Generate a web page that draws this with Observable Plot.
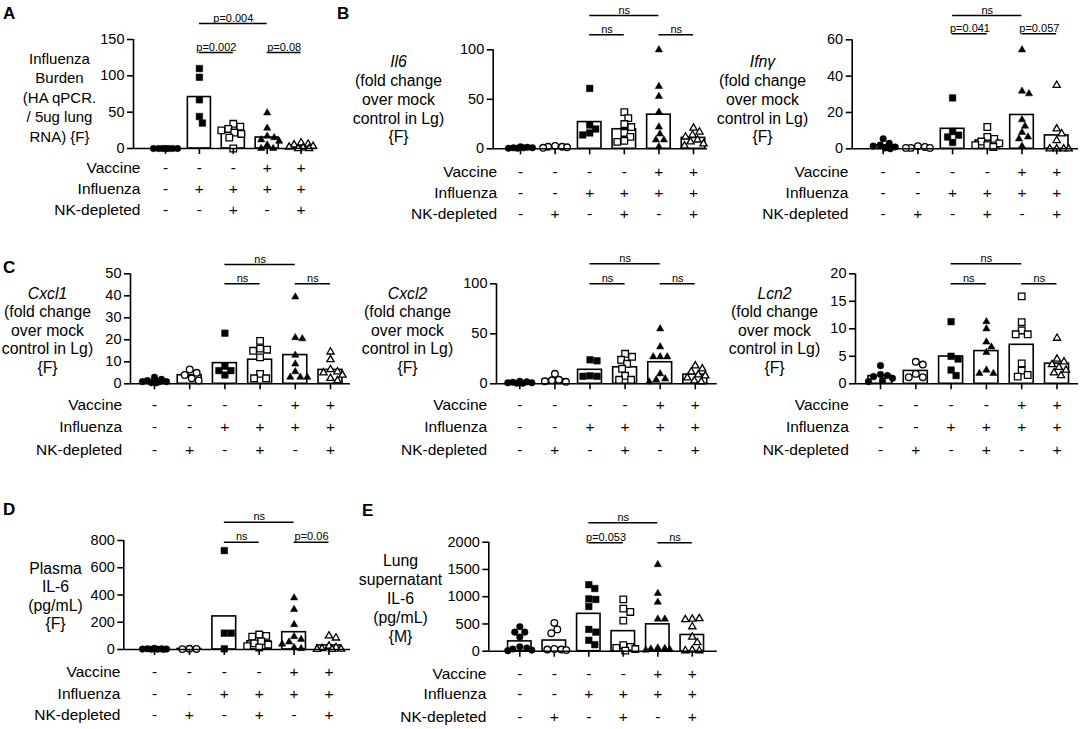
<!DOCTYPE html>
<html><head><meta charset="utf-8">
<script src="https://cdn.jsdelivr.net/npm/d3@7"></script>
<script src="https://cdn.jsdelivr.net/npm/@observablehq/plot@0.6"></script>
<style>
body{margin:0;background:#fff;}
#page{position:relative;width:1081px;height:729px;overflow:hidden;background:#fff;font-family:"Liberation Sans",Arial,Helvetica,sans-serif;}
.panel{position:absolute;}
.letter{position:absolute;font-weight:bold;font-size:17px;line-height:17px;color:#000;}
</style></head><body><div id="page"></div>
<script>
// ---------- data ----------
const rowLabels = ["Vaccine", "Influenza", "NK-depleted"];
const vaccine6 = ["-", "-", "-", "-", "+", "+"];
const influenza6 = ["-", "-", "+", "+", "+", "+"];
const nk6 = ["-", "+", "-", "+", "-", "+"];
const vaccine5 = ["-", "-", "-", "+", "+"];
const influenza5 = ["-", "+", "+", "+", "+"];
const nk5 = ["-", "-", "+", "-", "+"];

const ticksA = [0, 50, 100, 150];
const ticksIl6 = [0, 50, 100];
const ticksIfng = [0, 20, 40, 60];
const ticksCxcl1 = [0, 10, 20, 30, 40, 50];
const ticksCxcl2 = [0, 50, 100];
const ticksLcn2 = [0, 5, 10, 15, 20];
const ticksPlasma = [0, 200, 400, 600, 800];
const ticksLung = [0, 500, 1000, 1500, 2000];

const influenzaBurden = [
  [0, 0, 0, 0, 0, 0, 0],
  [110, 98, 67, 44, 35],
  [34, 30, 27, 25, 22, 20, 15, 0],
  [49, 28, 17, 15, 12, 10, 5, 0, 0],
  [8, 6, 5, 3, 2, 1, 0, 0]
];
const il6 = [
  [2, 1.5, 1, 1, 0.5, 1, 0.5],
  [3, 2, 2, 1.5, 1],
  [61, 24, 20, 16, 14],
  [37, 31, 25, 22, 16, 12, 8, 7],
  [100, 63, 53, 37, 22, 15, 9, 9, 2],
  [21, 17, 14, 12, 9, 7, 5, 3]
];
const ifng = [
  [5.5, 3, 2, 1.5, 1, 0.5, 0],
  [1.5, 1, 0.5, 0.5, 0.5],
  [28, 9.5, 7.5, 6.5, 3.5],
  [12, 6.5, 5.5, 4, 3, 2, 2, 1],
  [54.5, 31.7, 30.3, 16, 12.5, 9, 6.5, 5.5, 1.5],
  [35, 11, 8.3, 4.6, 0, 0, 0, 0]
];
const cxcl1 = [
  [3, 2, 1.5, 1, 1, 0.5, 0.5, 1],
  [6.5, 5, 4, 2.5, 1.5],
  [23, 8, 6, 6, 4],
  [19.5, 16, 15.5, 15, 12, 4.5, 2.5, 2.5],
  [39.5, 21, 20.5, 13, 9, 5.5, 3, 3, 3],
  [14.5, 11, 6.5, 5.5, 5, 4, 2.5, 1.5]
];
const cxcl2 = [
  [2.5, 2, 1.5, 1, 1, 0.5, 0.5],
  [10, 4, 3.5, 2.5, 2],
  [24, 23, 8, 7.5, 7.5],
  [30, 27, 24, 20, 15, 8, 4, 4],
  [55, 37, 27, 27, 27, 10, 5, 4, 2],
  [18, 15, 12, 9, 8, 6, 3, 2]
];
const lcn2 = [
  [3.3, 1.7, 1.5, 1.3, 1, 0.6, 0.4],
  [4, 3.5, 1.8, 1.2, 1.2],
  [11.3, 5, 4.5, 2.5, 1.5],
  [11.3, 10, 7.6, 6.7, 5.7, 2.5, 1.9, 1.9],
  [15.9, 11.2, 9.7, 9, 9, 3.7, 2.4, 1.6, 1.3],
  [8.3, 4.5, 4, 3.5, 3, 2.5, 2, 1.5]
];
const plasmaIL6 = [
  [8, 5, 5, 3, 3, 2, 2, 1],
  [5, 4, 3],
  [726, 120, 120, 5],
  [110, 100, 95, 60, 45, 35, 25, 15],
  [379, 294, 183, 95, 75, 55, 40, 15, 7],
  [100, 85, 25, 15, 7, 3, 1, 1]
];
const lungIL6 = [
  [450, 350, 350, 260, 80, 60, 40, 20, 10],
  [520, 400, 330, 40, 30, 30, 20],
  [1220, 1150, 960, 950, 820, 400, 350, 200, 120],
  [950, 780, 720, 560, 110, 80, 60, 40, 10],
  [1590, 1060, 900, 590, 590, 60, 50, 40, 30, 20],
  [590, 600, 580, 450, 260, 160, 20, 10, 10]
];

const shapes6 = [["circle", true], ["circle", false], ["square", true], ["square", false], ["triangle", true], ["triangle", false]];
const shapesA = [["circle", true], ["square", true], ["square", false], ["triangle", true], ["triangle", false]];
const shapesLcn2 = [["circle", true], ["circle", false], ["square", true], ["triangle", true], ["square", false], ["triangle", false]];

const bracketsA = [{from: 1, to: 3, label: "p=0.004", level: "upper"}, {from: 1, to: 2, label: "p=0.002", level: "lower"}, {from: 3, to: 4, label: "p=0.08", level: "lower"}];
const bracketsIl6 = [{from: 2, to: 4, label: "ns", level: "upper"}, {from: 2, to: 3, label: "ns", level: "lower"}, {from: 4, to: 5, label: "ns", level: "lower"}];
const bracketsIfng = [{from: 2, to: 4, label: "ns", level: "upper"}, {from: 2, to: 3, label: "p=0.041", level: "lower"}, {from: 4, to: 5, label: "p=0.057", level: "lower"}];
const bracketsNs = [{from: 2, to: 4, label: "ns", level: "upper"}, {from: 2, to: 3, label: "ns", level: "lower"}, {from: 4, to: 5, label: "ns", level: "lower"}];
const bracketsPlasma = [{from: 2, to: 4, label: "ns", level: "upper"}, {from: 2, to: 3, label: "ns", level: "lower"}, {from: 4, to: 5, label: "p=0.06", level: "lower"}];
const bracketsLung = [{from: 2, to: 4, label: "ns", level: "upper"}, {from: 2, to: 3, label: "p=0.053", level: "lower"}, {from: 4, to: 5, label: "ns", level: "lower"}];

const titleA = ["Influenza", "Burden", "(HA qPCR.", "/ 5ug lung", "RNA) {F}"];
const titleIl6 = ["Il6", "(fold change", "over mock", "control in Lg)", "{F}"];
const titleIfng = ["Ifnγ", "(fold change", "over mock", "control in Lg)", "{F}"];
const titleCxcl1 = ["Cxcl1", "(fold change", "over mock", "control in Lg)", "{F}"];
const titleCxcl2 = ["Cxcl2", "(fold change", "over mock", "control in Lg)", "{F}"];
const titleLcn2 = ["Lcn2", "(fold change", "over mock", "control in Lg)", "{F}"];
const titlePlasma = ["Plasma", "IL-6", "(pg/mL)", "{F}"];
const titleLung = ["Lung", "supernatant", "IL-6", "(pg/mL)", "{M}"];

// ---------- layout ----------
const FONT = '"Liberation Sans", Arial, Helvetica, sans-serif';
const tY1 = [61, 80.5, 99.5, 118, 136.5];
const tY2 = [293, 311.5, 330, 348.5, 367];
const panels = [
  {letter: "A", lx: 3, lb: 19.5, title: titleA, italic: false, values: influenzaBurden, ticks: ticksA, signs: [vaccine5, influenza5, nk5], shapes: shapesA, brackets: bracketsA,
   L: {left: 0, top: 0, width: 330, height: 225, axisX: 133, y0: 148, yTop: 39, g0: 165, step: 33.9, xEnd: 316, titleX: 59, titleY: [58.3, 77.9, 97.5, 117.1, 136.7], titleSize: 15, labelRight: 140, rowY: [168, 189, 210], upper: 23, lower: 52}},
  {letter: "B", lx: 337, lb: 19.5, title: titleIl6, italic: true, values: il6, ticks: ticksIl6, signs: [vaccine6, influenza6, nk6], shapes: shapes6, brackets: bracketsIl6,
   L: {left: 335, top: 0, width: 380, height: 225, axisX: 492.7, y0: 148.3, yTop: 49.3, g0: 520, step: 34.6, xEnd: 707, titleX: 398, titleY: tY1, titleSize: 15.8, labelRight: 496.7, rowY: [171.7, 192.7, 213.3], upper: 15, lower: 34.3}},
  {letter: "", title: titleIfng, italic: true, values: ifng, ticks: ticksIfng, signs: [vaccine6, influenza6, nk6], shapes: shapes6, brackets: bracketsIfng,
   L: {left: 715, top: 0, width: 366, height: 225, axisX: 851.7, y0: 148.3, yTop: 39.3, g0: 882.7, step: 34.7, xEnd: 1078, titleX: 762, titleY: tY1, titleSize: 15.8, labelRight: 848, rowY: [171.7, 192.7, 213.3], upper: 15, lower: 33.3}},
  {letter: "C", lx: 3, lb: 273, title: titleCxcl1, italic: true, values: cxcl1, ticks: ticksCxcl1, signs: [vaccine6, influenza6, nk6], shapes: shapes6, brackets: bracketsNs,
   L: {left: 0, top: 240, width: 355, height: 225, axisX: 130, y0: 383.3, yTop: 273.3, g0: 154, step: 35.2, xEnd: 350, titleX: 47, titleY: tY2, titleSize: 15.8, labelRight: 121.7, rowY: [405, 426.7, 449.3], upper: 264, lower: 283.3}},
  {letter: "", title: titleCxcl2, italic: true, values: cxcl2, ticks: ticksCxcl2, signs: [vaccine6, influenza6, nk6], shapes: shapes6, brackets: bracketsNs,
   L: {left: 355, top: 240, width: 365, height: 225, axisX: 496, y0: 383.3, yTop: 283.3, g0: 519.3, step: 35.1, xEnd: 716.7, titleX: 407, titleY: tY2, titleSize: 15.8, labelRight: 486.7, rowY: [405, 426.7, 449.3], upper: 263.3, lower: 283.3}},
  {letter: "", title: titleLcn2, italic: true, values: lcn2, ticks: ticksLcn2, signs: [vaccine6, influenza6, nk6], shapes: shapesLcn2, brackets: bracketsNs,
   L: {left: 720, top: 240, width: 361, height: 225, axisX: 855, y0: 383.3, yTop: 273.3, g0: 880, step: 35.3, xEnd: 1078, titleX: 774, titleY: tY2, titleSize: 15.8, labelRight: 848.3, rowY: [405, 426.7, 449.3], upper: 263.3, lower: 283.3}},
  {letter: "D", lx: 3, lb: 515, title: titlePlasma, italic: false, values: plasmaIL6, ticks: ticksPlasma, signs: [vaccine6, influenza6, nk6], shapes: shapes6, brackets: bracketsPlasma,
   L: {left: 0, top: 490, width: 355, height: 239, axisX: 123.3, y0: 649, yTop: 540, g0: 154, step: 34.9, xEnd: 350, titleX: 55, titleY: [568.3, 586.7, 605, 623.3], titleSize: 15.8, labelRight: 120, rowY: [671.7, 693.3, 715], upper: 521.7, lower: 541.7}},
  {letter: "E", lx: 362, lb: 516.7, title: titleLung, italic: false, values: lungIL6, ticks: ticksLung, signs: [vaccine6, influenza6, nk6], shapes: shapes6, brackets: bracketsLung,
   L: {left: 355, top: 490, width: 365, height: 239, axisX: 488.3, y0: 650.7, yTop: 541.7, g0: 519.3, step: 34.5, xEnd: 716.7, titleX: 400, titleY: [560, 579, 598, 617, 636], titleSize: 15.8, labelRight: 486, rowY: [673.3, 694, 716.7], upper: 522.3, lower: 542.3}}
];

const R = {circle: 3.3, square: 3.7, triangle: 2.7};

// deterministic horizontal spreading of overlapping points (pixel space)
function spread(vals, k, step, minDist, maxOff) {
  const placed = [];
  return vals.map(v => {
    const y = v * k;
    const cands = [0];
    for (let o = 1; o <= maxOff; o += 1) cands.push(o, -o);
    let chosen = null, best = 0, bestScore = -Infinity;
    for (const o of cands) {
      const md = placed.length ? d3.min(placed, p => Math.hypot(p.o - o, p.y - y)) : Infinity;
      if (md >= minDist) { chosen = o; break; }
      if (md > bestScore) { bestScore = md; best = o; }
    }
    if (chosen === null) chosen = best;
    placed.push({o: chosen, y});
    return chosen / step;
  });
}

const page = document.getElementById("page");

function drawPanel(p) {
  const L = p.L;
  const n = p.values.length;
  const ymax = p.ticks[p.ticks.length - 1];
  const k = (L.y0 - L.yTop) / ymax;
  const xd0 = (L.axisX - L.g0) / L.step;
  const xd1 = (L.xEnd - L.g0) / L.step;
  const toVal = px => (L.y0 - px) / k;

  const bars = p.values.map((vals, g) => ({g, mean: d3.mean(vals)}));
  const marks = [];
  marks.push(Plot.rect(bars, {x1: d => d.g - 0.34, x2: d => d.g + 0.34, y1: () => 0, y2: d => d.mean, fill: "white", stroke: "black", strokeWidth: 1.6}));

  p.values.forEach((vals, g) => {
    const offs = spread(vals, k, L.step, 7, 12);
    const pts = vals.map((v, i) => ({g, v, off: offs[i]}));
    const [sym, filled] = p.shapes[g];
    marks.push(Plot.dot(pts, {x: d => d.g + d.off, y: d => d.v, symbol: sym, r: R[sym],
      fill: filled ? "black" : "white", stroke: "black", strokeWidth: filled ? 0.5 : 1.3}));
  });

  // axes
  marks.push(Plot.ruleY([0], {x1: () => xd0, x2: () => xd1, y: () => 0, strokeWidth: 1.6}));
  marks.push(Plot.ruleX([0], {x: () => xd0, y1: () => 0, y2: () => ymax, strokeWidth: 1.6}));
  marks.push(Plot.ruleX(d3.range(n), {x: d => d, y1: () => 0, y2: () => -6 / k, strokeWidth: 1.6}));
  marks.push(Plot.axisY({ticks: p.ticks, tickSize: 6, tickPadding: 3, fontSize: 14.5, strokeWidth: 1.6, tickFormat: d => String(d), label: null}));

  // brackets
  const by = d => toVal(d.level === "upper" ? L.upper : L.lower);
  marks.push(Plot.ruleY(p.brackets, {x1: d => d.from, x2: d => d.to, y: by, strokeWidth: 1.5}));
  marks.push(Plot.text(p.brackets, {x: d => (d.from + d.to) / 2, y: by, text: d => d.label, lineAnchor: "bottom", dy: -2, fontSize: 11}));

  // title lines
  p.title.forEach((line, i) => {
    marks.push(Plot.text([line], {x: () => xd0, y: () => 0, text: d => d, dx: L.titleX - L.axisX, dy: L.titleY[i] - L.y0,
      textAnchor: "middle", fontSize: L.titleSize, fontStyle: (p.italic && i === 0) ? "italic" : "normal"}));
  });

  // condition rows
  rowLabels.forEach((lab, r) => {
    marks.push(Plot.text([lab], {x: () => xd0, y: () => 0, text: d => d, dx: L.labelRight - L.axisX, dy: L.rowY[r] - L.y0, textAnchor: "end", fontSize: 15.5}));
    marks.push(Plot.text(p.signs[r], {x: (d, i) => i, y: () => 0, text: d => d, dy: L.rowY[r] - L.y0, textAnchor: "middle", fontSize: 15.5}));
  });

  const svg = Plot.plot({
    width: L.width, height: L.height,
    marginLeft: L.axisX - L.left, marginRight: L.left + L.width - L.xEnd,
    marginTop: L.yTop - L.top, marginBottom: L.top + L.height - L.y0,
    x: {domain: [xd0, xd1], axis: null},
    y: {domain: [0, ymax], axis: null},
    style: {fontFamily: FONT, fontSize: "14px", background: "transparent", overflow: "visible", color: "black"},
    marks
  });
  const div = document.createElement("div");
  div.className = "panel";
  div.style.left = L.left + "px";
  div.style.top = L.top + "px";
  div.appendChild(svg);
  page.appendChild(div);

  if (p.letter) {
    const t = document.createElement("div");
    t.className = "letter";
    t.textContent = p.letter;
    t.style.left = p.lx + "px";
    t.style.top = (p.lb - 14.4) + "px";
    page.appendChild(t);
  }
}

panels.forEach(drawPanel);
</script></body></html>
